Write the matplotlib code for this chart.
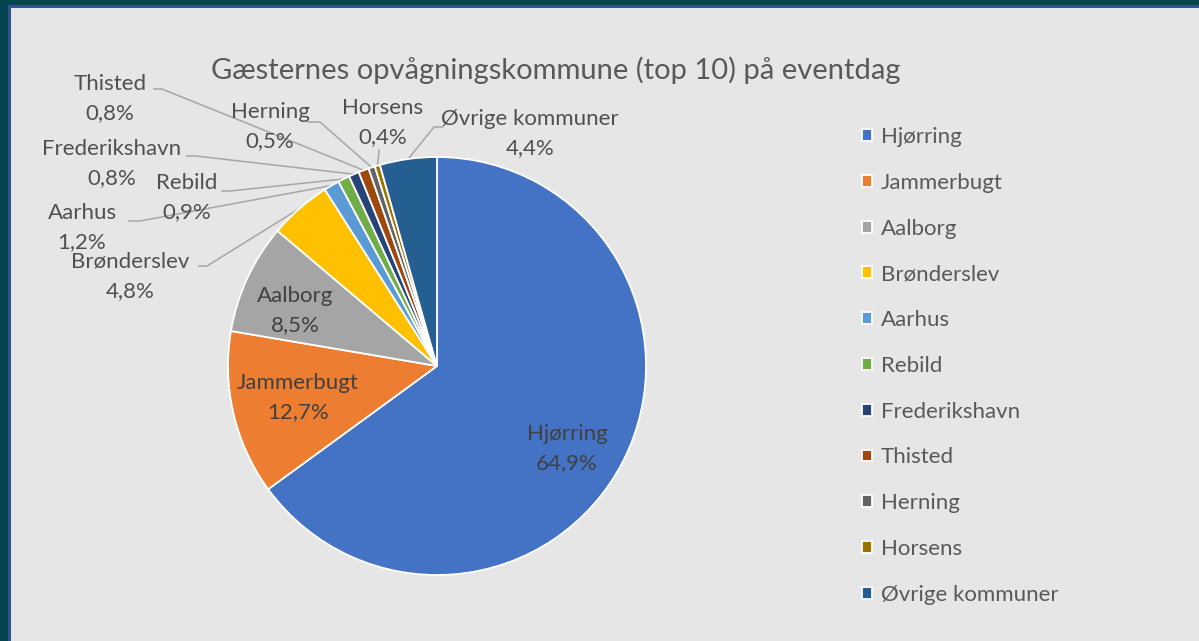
import matplotlib
matplotlib.use('Agg')
import numpy as np
import matplotlib.pyplot as plt
from matplotlib.patches import Rectangle

plt.rcParams['font.family'] = ['Lato', 'DejaVu Sans']

# data
names = ['Hjørring', 'Jammerbugt', 'Aalborg', 'Brønderslev', 'Aarhus', 'Rebild',
         'Frederikshavn', 'Thisted', 'Herning', 'Horsens', 'Øvrige kommuner']
shares = [64.9, 12.7, 8.5, 4.8, 1.2, 0.9, 0.8, 0.8, 0.5, 0.4, 4.4]
colors = ['#4472C4', '#ED7D31', '#A5A5A5', '#FFC000', '#5B9BD5', '#70AD47',
          '#264478', '#9E480E', '#636363', '#997300', '#255E91']
title = 'Gæsternes opvågningskommune (top 10) på eventdag'

W, H = 1199, 641
CX, CY, R = 437, 366, 209  # pie centre / radius in pixels

# label layout (pixel centres of name line and leader start/elbow)
inside = {'Hjørring': (567, 434), 'Jammerbugt': (298, 383), 'Aalborg': (295, 296)}
outside = {
    'Thisted': ((110, 84), [(154, 89), (162, 89)]),
    'Herning': ((270, 112), [(308, 122), (320, 122)]),
    'Horsens': ((383, 108), [(379, 150), (379, 152)]),
    'Øvrige kommuner': ((530, 119), [(443, 127), (434, 127)]),
    'Frederikshavn': ((112, 149), [(187, 156), (196, 156)]),
    'Rebild': ((187, 183), [(222, 191), (230, 191)]),
    'Aarhus': ((82, 213), [(129, 221), (140, 221)]),
    'Brønderslev': ((130, 262), [(199, 266), (207, 266)]),
}


def px(x, y):
    return (x - CX) / R, (CY - y) / R


def pct(v):
    return f'{v:.1f}%'.replace('.', ',')


fig = plt.figure(figsize=(W / 100, H / 100), dpi=100)
fig.patch.set_facecolor('#05454f')
fig.patches.append(Rectangle((8 / W, 0), 1, (H - 5) / H, transform=fig.transFigure,
                             facecolor='#2f4f96', edgecolor='none', zorder=-2))
fig.patches.append(Rectangle((11 / W, 0), 1, (H - 8) / H, transform=fig.transFigure,
                             facecolor='#e6e6e6', edgecolor='none', zorder=-1))

ax = fig.add_axes([(CX - R) / W, (H - CY - R) / H, 2 * R / W, 2 * R / H])
ax.set_facecolor('none')
wedges, _ = ax.pie(shares, colors=colors, startangle=90, counterclock=False,
                   wedgeprops=dict(edgecolor='white', linewidth=1.3))
ax.set_xlim(-1, 1)
ax.set_ylim(-1, 1)
ax.set_aspect('equal')
ax.axis('off')

txt = '#404040'
fs = 16
for name, w, v in zip(names, wedges, shares):
    if name in inside:
        x, y = inside[name]
        ax.text(*px(x, y), name, ha='center', va='center', fontsize=fs, color=txt)
        ax.text(*px(x, y + 29), pct(v), ha='center', va='center', fontsize=fs, color=txt)
    else:
        (x, y), pts = outside[name]
        ax.text(*px(x, y), name, ha='center', va='center', fontsize=fs, color='#505050',
                clip_on=False)
        ax.text(*px(x, y + 29), pct(v), ha='center', va='center', fontsize=fs,
                color='#505050', clip_on=False)
        mid = np.deg2rad((w.theta1 + w.theta2) / 2)
        line = [px(*p) for p in pts] + [(np.cos(mid), np.sin(mid))]
        lx, ly = zip(*line)
        ax.plot(lx, ly, color='#a6a6a6', lw=1.1, clip_on=False, zorder=0)

fig.text(556 / W, 1 - 70 / H, title, ha='center', va='center', fontsize=21,
         color='#595959')

fig.legend(wedges, names, loc='upper left', bbox_to_anchor=(862 / W, 1 - 127 / H),
           frameon=False, fontsize=fs, handlelength=0.45, handleheight=0.45,
           handletextpad=0.4, labelspacing=1.16, labelcolor='#595959',
           borderpad=0, borderaxespad=0)

fig.savefig('out.png', dpi=100, facecolor=fig.get_facecolor())
